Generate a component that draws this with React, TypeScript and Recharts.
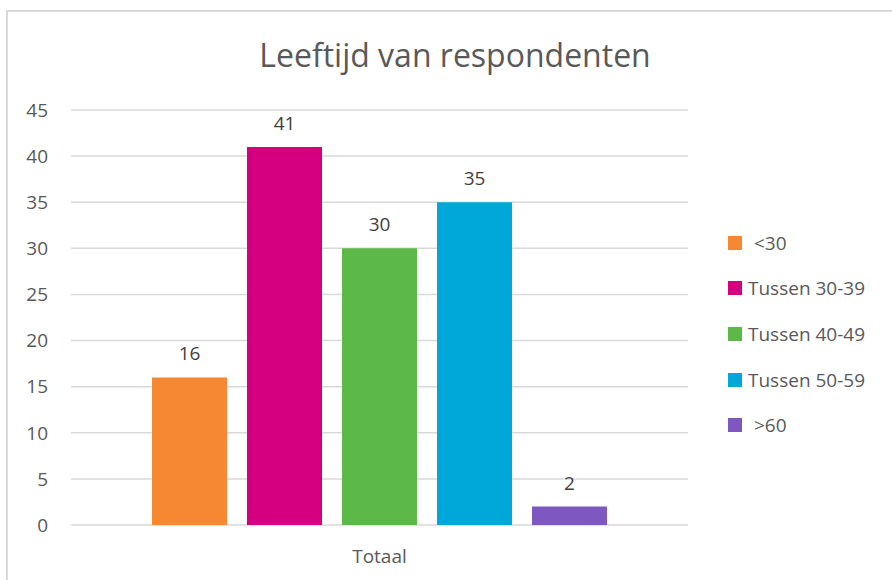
import React from 'react';
import { BarChart, Bar, XAxis, YAxis, CartesianGrid, LabelList } from 'recharts';

const categories = ['Totaal'];
const seriesNames = ['<30', 'Tussen 30-39', 'Tussen 40-49', 'Tussen 50-59', '>60'];
const seriesValues = [16, 41, 30, 35, 2];
const seriesColors = ['#f68834', '#d4007f', '#5cb947', '#00a7d9', '#7f57c1'];
const yTicks = [0, 5, 10, 15, 20, 25, 30, 35, 40, 45];

const data = categories.map((name) => {
  const row: Record<string, string | number> = { name };
  seriesNames.forEach((s, i) => {
    row[s] = seriesValues[i];
  });
  return row;
});

const font = '"Open Sans", sans-serif';

const App = () => {
  return (
    <div style={{ position: 'fixed', left: 0, top: 0, width: 892, height: 580, fontFamily: font, overflow: 'hidden', background: '#fff' }}>
      <div style={{ position: 'absolute', left: 6, top: 10, width: 900, height: 2, background: '#d9d9d9' }} />
      <div style={{ position: 'absolute', left: 6, top: 10, width: 2, height: 600, background: '#d9d9d9' }} />
      <div
        style={{
          position: 'absolute',
          left: 0,
          top: 33,
          width: 910,
          textAlign: 'center',
          fontSize: 32,
          color: '#595959'
        }}
      >
        Leeftijd van respondenten
      </div>
      <div style={{ position: 'absolute', left: 0, top: 0 }}>
        <BarChart
          width={892}
          height={580}
          data={data}
          margin={{ top: 110, right: 204, left: 0, bottom: 25 }}
          barGap={20}
          barSize={75}
        >
          <CartesianGrid vertical={false} stroke="#d9d9d9" strokeWidth={1.5} />
          <XAxis
            dataKey="name"
            axisLine={false}
            tickLine={false}
            tickSize={0}
            tickMargin={25}
            tick={{ fill: '#595959', fontSize: 19, fontFamily: font }}
          />
          <YAxis
            width={71}
            domain={[0, 45]}
            ticks={yTicks}
            axisLine={false}
            tickLine={false}
            tickSize={0}
            tickMargin={23}
            tick={{ fill: '#595959', fontSize: 19, fontFamily: font }}
          />
          {seriesNames.map((s, i) => (
            <Bar key={s} dataKey={s} fill={seriesColors[i]} isAnimationActive={false}>
              <LabelList
                dataKey={s}
                position="top"
                offset={17}
                fill="#404040"
                fontSize={19}
                fontFamily={font}
              />
            </Bar>
          ))}
        </BarChart>
      </div>
      <div style={{ position: 'absolute', left: 728, top: 220 }}>
        {seriesNames.map((s, i) => (
          <div
            key={s}
            style={{ display: 'flex', alignItems: 'center', height: 45.6, fontSize: 19, color: '#595959' }}
          >
            <span style={{ width: 14, height: 14, background: seriesColors[i], marginRight: s.length < 5 ? 12 : 6 }} />
            {s}
          </div>
        ))}
      </div>
    </div>
  );
};

export default App;
